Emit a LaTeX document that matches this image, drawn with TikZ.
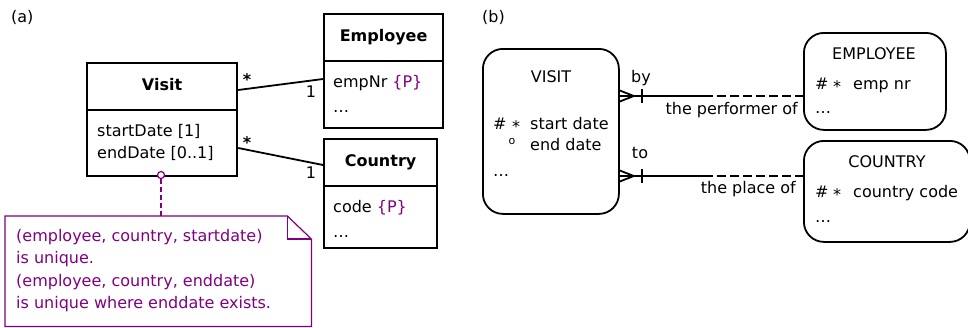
\documentclass[tikz,border=0pt]{standalone}
\usepackage{fontspec}
\setmainfont{DejaVu Sans}
\usetikzlibrary{calc}
\definecolor{notepurple}{RGB}{128,0,128}

\begin{document}
\begin{tikzpicture}[x=1pt,y=-1pt,
  font=\fontsize{16}{19}\selectfont,
  lbl/.style={inner sep=0pt, text height=12pt, text depth=3.5pt},
  boldlbl/.style={lbl, font=\fontsize{16}{19}\selectfont\bfseries},
  umlbox/.style={draw, line width=2.2pt, anchor=north west, inner sep=0pt},
  entbox/.style={draw, line width=1.8pt, rounded corners=20pt, anchor=north west, inner sep=0pt},
  assoc/.style={line width=1.8pt},
  rel/.style={line width=1.8pt},
  optrel/.style={line width=2.6pt, dash pattern=on 9pt off 4pt},
  mult/.style={inner sep=0pt, anchor=base},
  notetext/.style={lbl, anchor=west, text=notepurple},
  noteline/.style={draw=notepurple, line width=1.2pt}]

\useasboundingbox (0,0) rectangle (968,327);

% ---------------- (a) UML class diagram ----------------
\node[lbl, anchor=west] (labela) at (11,18) {(a)};

% class Visit
\node[umlbox, minimum width=150pt, minimum height=113pt] (visit) at (86,62) {};
\draw[line width=2.2pt] ($(visit.north west)+(0,48)$) -- ($(visit.north east)+(0,48)$);
\node[boldlbl] (visitname) at ($(visit.north)+(0,24)$) {Visit};
\node[lbl, anchor=west] (visitattr1) at (97,132) {startDate [1]};
\node[lbl, anchor=west] (visitattr2) at (97,154) {endDate [0..1]};

% class Employee
\node[umlbox, minimum width=119pt, minimum height=114pt] (employee) at (323,13) {};
\draw[line width=2.2pt] ($(employee.north west)+(0,48)$) -- ($(employee.north east)+(0,48)$);
\node[boldlbl] (employeename) at ($(employee.north)+(0,24)$) {Employee};
\node[lbl, anchor=west] (employeeattr1) at (333,83) {empNr \textcolor{notepurple}{\{P\}}};
\node[lbl, anchor=west] (employeeattr2) at (333,108) {…};

% class Country
\node[umlbox, minimum width=113pt, minimum height=109pt] (country) at (323,138) {};
\draw[line width=2.2pt] ($(country.north west)+(0,48)$) -- ($(country.north east)+(0,48)$);
\node[boldlbl] (countryname) at ($(country.north)+(0,24)$) {Country};
\node[lbl, anchor=west] (countryattr1) at (333,208) {code \textcolor{notepurple}{\{P\}}};
\node[lbl, anchor=west] (countryattr2) at (333,233) {…};

% associations
\coordinate (va) at ($(visit.north east)+(0,28)$);
\coordinate (ea) at ($(employee.north west)+(0,66)$);
\coordinate (vb) at ($(visit.north east)+(0,86)$);
\coordinate (cb) at ($(country.north west)+(0,27)$);
\draw[assoc] (va) -- (ea);
\draw[assoc] (vb) -- (cb);
\node[mult, font=\fontsize{16}{19}\selectfont\bfseries] (multva) at (247,85) {*};
\node[lbl] (multea) at (311,93) {1};
\node[mult, font=\fontsize{16}{19}\selectfont\bfseries] (multvb) at (247,148) {*};
\node[lbl] (multcb) at (311,174) {1};

% constraint note
\node[anchor=north west, minimum width=306pt, minimum height=110pt, inner sep=0pt] (note) at (5,216) {};
\draw[noteline] (note.north west) -- ($(note.north east)+(-24,0)$) -- ($(note.north east)+(0,23)$)
  -- (note.south east) -- (note.south west) -- cycle;
\draw[noteline] ($(note.north east)+(-24,0)$) -- ($(note.north east)+(-24,23)$) -- ($(note.north east)+(0,23)$);
\node[notetext] (note1) at (16,237) {(employee, country, startdate)};
\node[notetext] (note2) at (16,259) {is unique.};
\node[notetext] (note3) at (16,282) {(employee, country, enddate)};
\node[notetext] (note4) at (16,304) {is unique where enddate exists.};

\node[circle, draw=notepurple, fill=white, line width=1.2pt, minimum size=7pt, inner sep=0pt] (pin) at (161,175) {};
\draw[noteline, line width=1.5pt, dash pattern=on 5pt off 3pt] (pin.south) -- (pin.south |- note.north);

% ---------------- (b) Barker ER diagram ----------------
\node[lbl, anchor=west] (labelb) at (482,18) {(b)};

\node[entbox, minimum width=136pt, minimum height=165pt] (visitent) at (482,48) {};
\node[lbl] (visitentname) at (551,78) {VISIT};
\node[lbl, anchor=west] (visitid) at (493,125) {\#};
\node[mult] (visitstar) at (516,132) {*};
\node[lbl, anchor=west] (visitstart) at (530,125) {start date};
\node[inner sep=0pt, font=\fontsize{11}{13}\selectfont] (visitopt) at (512,141) {o};
\node[lbl, anchor=west] (visitend) at (530,146) {end date};
\node[lbl, anchor=west] (visitmore) at (493,172) {…};

\node[entbox, minimum width=142pt, minimum height=97pt] (employeeent) at (803,32) {};
\node[lbl] (employeeentname) at (874,55) {EMPLOYEE};
\node[lbl, anchor=west] (empid) at (815,85) {\#};
\node[mult] (empstar) at (837,92) {*};
\node[lbl, anchor=west] (empnr) at (853,85) {emp nr};
\node[lbl, anchor=west] (empmore) at (815,109) {…};

\node[entbox, minimum width=166pt, minimum height=101pt] (countryent) at (803,140) {};
\node[lbl] (countryentname) at (887,163) {COUNTRY};
\node[lbl, anchor=west] (ctyid) at (815,193) {\#};
\node[mult] (ctystar) at (837,200) {*};
\node[lbl, anchor=west] (ctycode) at (853,193) {country code};
\node[lbl, anchor=west] (ctymore) at (815,218) {…};

% relationships: crow's foot at VISIT, one at the other end, optional half dashed
\coordinate (r1v) at ($(visitent.north east)+(0,48)$);
\coordinate (r1e) at ($(employeeent.north west)+(0,64)$);
\coordinate (r1m) at ($(r1v)!0.46!(r1e)$);
\draw[rel] (r1v) -- (r1m);
\draw[optrel] (r1m) -- (r1e);
\draw[rel] ($(r1v)+(0,-5.5)$) -- ($(r1v)+(14,0)$) -- ($(r1v)+(0,5.5)$);
\draw[rel] ($(r1v)+(22,-7)$) -- ($(r1v)+(22,7)$);
\node[lbl] (r1by) at (641,78) {by};
\node[lbl, anchor=east] (r1back) at (798,110) {the performer of};

\coordinate (r2v) at ($(visitent.north east)+(0,128)$);
\coordinate (r2c) at ($(countryent.north west)+(0,36)$);
\coordinate (r2m) at ($(r2v)!0.46!(r2c)$);
\draw[rel] (r2v) -- (r2m);
\draw[optrel] (r2m) -- (r2c);
\draw[rel] ($(r2v)+(0,-5.5)$) -- ($(r2v)+(14,0)$) -- ($(r2v)+(0,5.5)$);
\draw[rel] ($(r2v)+(22,-7)$) -- ($(r2v)+(22,7)$);
\node[lbl] (r2to) at (640,154) {to};
\node[lbl, anchor=east] (r2back) at (796,189) {the place of};

\end{tikzpicture}
\end{document}
